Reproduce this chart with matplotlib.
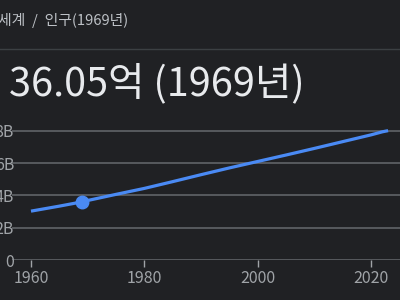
import matplotlib.pyplot as plt

plt.rcParams['font.family'] = ['Noto Sans CJK KR', 'DejaVu Sans']

# world population, billions
years = [1960, 1965, 1969, 1970, 1975, 1980, 1985, 1990, 1995, 2000, 2005, 2010, 2015, 2020, 2022, 2023]
population = [3.03, 3.34, 3.605, 3.69, 4.07, 4.44, 4.86, 5.29, 5.71, 6.11, 6.51, 6.92, 7.34, 7.76, 7.95, 8.02]
highlight_year = 1969
highlight_value = 3.605

breadcrumb = "세계  /  인구(1969년)"
headline = "36.05억 (1969년)"
x_ticks = [1960, 1980, 2000, 2020]
y_ticks = [0, 2, 4, 6, 8]
y_tick_labels = ["0", "2B", "4B", "6B", "8B"]

bg = "#202124"
fig = plt.figure(figsize=(4, 3), dpi=100, facecolor=bg)

fig.text(-0.005, 0.933, breadcrumb, color="#bdc1c6", fontsize=10.7, va="center", ha="left")
fig.add_artist(plt.Line2D([0, 1], [0.838, 0.838], color="#3c4043", lw=1, transform=fig.transFigure))
fig.text(0.022, 0.72, headline, color="#e8eaed", fontsize=28.5, va="center", ha="left")

ax = fig.add_axes([0.03, 0.1333, 0.97, 0.45])
ax.set_facecolor(bg)
ax.plot(years, population, color="#4a8af4", lw=2.3, solid_capstyle="butt", zorder=3)
ax.plot([highlight_year], [highlight_value], "o", color="#4a8af4", ms=9, zorder=4)

ax.set_xlim(1956.65, 2025.1)
ax.set_ylim(0, 8.37)
ax.set_yticks(y_ticks)
ax.set_yticklabels(y_tick_labels)
ax.set_xticks(x_ticks)
ax.grid(axis="y", color="#666a6e", lw=1.1)
for s in ax.spines.values():
    s.set_visible(False)
ax.tick_params(axis="y", length=0, pad=-1.5, colors="#a0a4a8", labelsize=11.5)
ax.tick_params(axis="x", length=5, width=1, color="#a0a4a8", pad=2, labelcolor="#a0a4a8", labelsize=11.5)

fig.savefig("out.png", dpi=100, facecolor=bg)
